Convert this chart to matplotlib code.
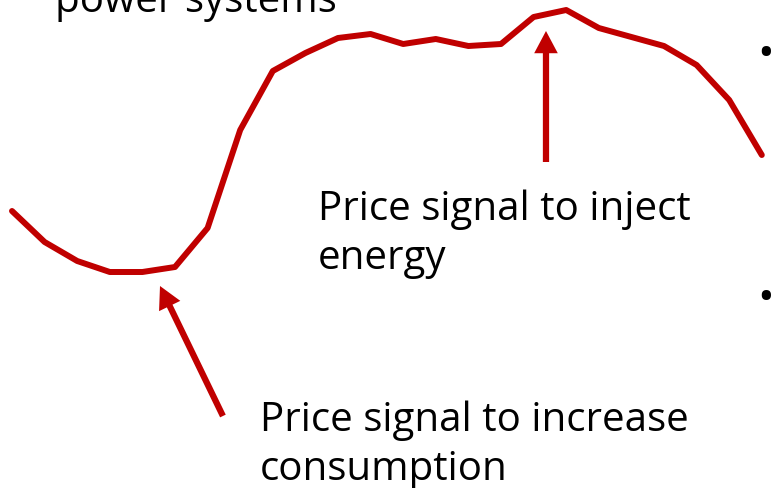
import matplotlib.pyplot as plt

# hourly price curve (arbitrary price units)
hours = list(range(1, 25))
price = [22, 14.25, 9.5, 6.75, 6.75, 8, 17.75, 42.25, 57, 61.5, 65.25, 66.25,
         63.75, 65, 63.25, 63.75, 70.5, 72.25, 67.75, 65.5, 63.25, 58.5, 49.75, 36]

inject_label = ["Price signal to inject", "energy"]
consume_label = ["Price signal to increase", "consumption"]

red = "#C00000"
plt.rcParams['font.family'] = ['Open Sans', 'DejaVu Sans']

W, H = 772, 489
fig = plt.figure(figsize=(W / 100, H / 100), dpi=100)
ax = fig.add_axes([0, 0, 1, 1])
ax.set_axis_off()

px = 32.6  # pixels per hour
ax.set_xlim(1 - 12 / px, 1 + (W - 12) / px)
ax.set_ylim(75 - H / 4, 75)

ax.plot(hours, price, color=red, lw=4.3, solid_capstyle='round',
        solid_joinstyle='round')

arrow = dict(arrowstyle='simple,head_length=1.6,head_width=1.7,tail_width=0.45',
             color=red, lw=0, mutation_scale=10, shrinkA=0, shrinkB=0)
# peak arrow
ax.annotate("", xy=(17.38, 67), xytext=(17.38, 34.25), arrowprops=arrow)
# valley arrow
ax.annotate("", xy=(5.54, 3.25), xytext=(7.47, -29.25), arrowprops=arrow)


def put(x, y, s, size=29):
    fig.text(x / W, 1 - y / H, s, fontsize=size, va='baseline', ha='left',
             color='black')


put(318, 220, inject_label[0])
put(318, 269, inject_label[1])
put(260, 431, consume_label[0])
put(260, 480, consume_label[1])
put(55, 12, "power systems")
put(757, 67, "\u2022", 32)
put(757, 311, "\u2022", 32)

fig.savefig("out.png", dpi=100)
